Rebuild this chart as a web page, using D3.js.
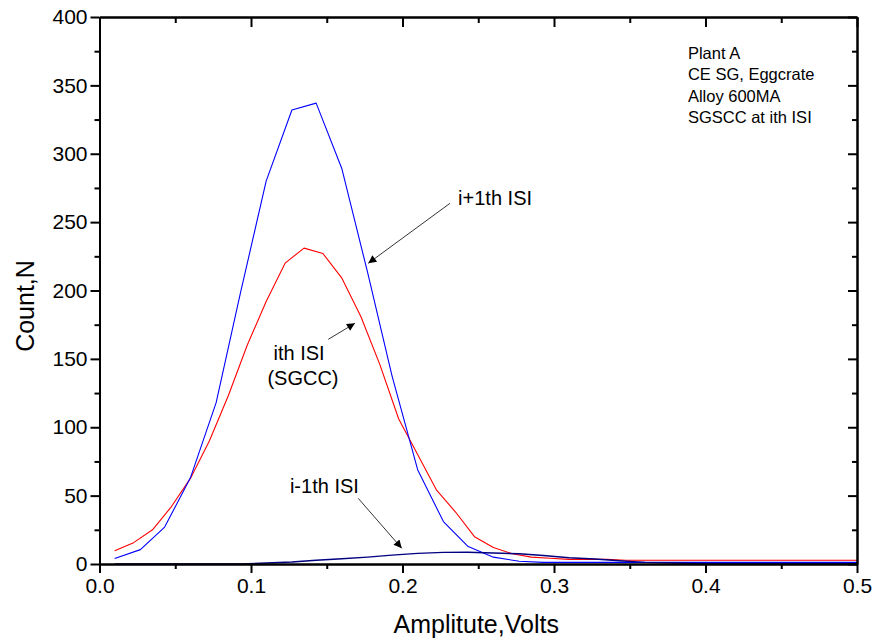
<!DOCTYPE html>
<html>
<head>
<meta charset="utf-8">
<script src="https://cdn.jsdelivr.net/npm/d3@7"></script>
<style>
  body { margin: 0; background: #fff; }
  svg { display: block; font-family: "Liberation Sans", Arial, sans-serif; }
</style>
</head>
<body>
<svg id="chart" width="877" height="643"></svg>
<script>
// i+1th ISI (blue) - bins of ~1/60 V
var xBlue = [0.010, 0.027, 0.043, 0.060, 0.077, 0.093, 0.110, 0.127, 0.143, 0.160,
             0.177, 0.193, 0.210, 0.227, 0.243, 0.260, 0.277, 0.293, 0.310, 0.327,
             0.343, 0.360, 0.377, 0.393, 0.410, 0.427, 0.443, 0.460, 0.477, 0.493, 0.510];
var nextISI = [4, 10.5, 27, 63, 118, 198, 280, 332, 337, 289,
               213, 138, 69, 31, 13, 5, 2, 1.2, 1.2, 1.2,
               1.2, 1.2, 1.2, 1.2, 1.2, 1.2, 1.2, 1.2, 1.2, 1.2, 1.2];
// i-1th ISI (navy), same bins
var prevISI = [0, 0, 0, 0, 0, 0, 0.7, 1.5, 2.7, 3.8,
               5, 6.5, 7.8, 8.5, 8.6, 8, 7.5, 6.2, 4.6, 3.7,
               2.4, 1.2, 0.7, 0.4, 0.3, 0.2, 0.2, 0.2, 0.2, 0.2, 0.2];
// ith ISI (SGCC, red) - bins of 0.0125 V
var xRed = [0.0100, 0.0225, 0.0350, 0.0475, 0.0600, 0.0725, 0.0850, 0.0975, 0.1100, 0.1225,
            0.1350, 0.1475, 0.1600, 0.1725, 0.1850, 0.1975, 0.2100, 0.2225, 0.2350, 0.2475,
            0.2600, 0.2725, 0.2850, 0.2975, 0.3100, 0.3225, 0.3350, 0.3475, 0.3600, 0.3725,
            0.3850, 0.3975, 0.4100, 0.4225, 0.4350, 0.4475, 0.4600, 0.4725, 0.4850, 0.4975, 0.5100];
var thisISI = [9.7, 15.6, 25, 42, 62.6, 90, 123, 160, 192, 220,
               231, 227, 209, 181, 146, 106, 80, 54, 38, 20,
               12, 7.5, 5, 4.2, 3.4, 3.4, 3.4, 2.7, 2.7, 2.7,
               2.7, 2.7, 2.7, 2.7, 2.7, 2.7, 2.7, 2.7, 2.7, 2.7, 2.7];

var xTicks = [0, 0.1, 0.2, 0.3, 0.4, 0.5];
var xMinor = [0.05, 0.15, 0.25, 0.35, 0.45];
var yTicks = [0, 50, 100, 150, 200, 250, 300, 350, 400];
var yMinor = [25, 75, 125, 175, 225, 275, 325, 375];

var infoLines = ["Plant A", "CE SG, Eggcrate", "Alloy 600MA", "SGSCC at ith ISI"];

var svg = d3.select("#chart");
var margin = {top: 17, right: 20, bottom: 79, left: 99.5},
    width = 877 - margin.left - margin.right,
    height = 643 - margin.top - margin.bottom;

var x = d3.scaleLinear().domain([0, 0.5]).range([margin.left, margin.left + width]);
var y = d3.scaleLinear().domain([0, 400]).range([margin.top + height, margin.top]);

svg.append("defs").append("clipPath").attr("id", "clip")
    .append("rect")
    .attr("x", x(0)).attr("y", y(400))
    .attr("width", x(0.5) - x(0)).attr("height", y(0) - y(400));

svg.select("defs").append("marker")
    .attr("id", "arrow")
    .attr("viewBox", "0 0 10 10")
    .attr("refX", 10).attr("refY", 5)
    .attr("markerWidth", 13).attr("markerHeight", 8)
    .attr("markerUnits", "userSpaceOnUse")
    .attr("orient", "auto")
    .append("path")
    .attr("d", "M0,0L10,5L0,10z")
    .attr("fill", "#000");

//Lines
var lines = svg.append("g").attr("clip-path", "url(#clip)");

function drawLine(xs, ys, color, w) {
    var line = d3.line()
        .x(function(d, i) { return x(xs[i]); })
        .y(function(d) { return y(d); });
    lines.append("path")
        .datum(ys)
        .attr("fill", "none")
        .attr("stroke", color)
        .attr("stroke-width", w)
        .attr("stroke-linejoin", "round")
        .attr("d", line);
}

drawLine(xRed, thisISI, "#ff0000", 1.1);
drawLine(xBlue, nextISI, "#0000ff", 1.1);
drawLine(xBlue, prevISI, "#000080", 1.4);

//Axes
function styleAxis(g, fontSize) {
    g.select(".domain").attr("stroke-width", 2);
    g.selectAll(".tick line").attr("stroke-width", 2);
    g.selectAll(".tick text").attr("font-size", fontSize).attr("fill", "#000");
    g.attr("font-family", null);
}

var fmtX = d3.format(".1f");

// bottom
svg.append("g")
    .attr("transform", "translate(0," + y(0) + ")")
    .call(d3.axisBottom(x).tickValues(xTicks).tickFormat(fmtX).tickSize(9).tickPadding(5).tickSizeOuter(0))
    .call(styleAxis, 21);
svg.append("g")
    .attr("transform", "translate(0," + y(0) + ")")
    .call(d3.axisBottom(x).tickValues(xMinor).tickFormat("").tickSize(5).tickSizeOuter(0))
    .call(styleAxis, 21);

// top (inward)
svg.append("g")
    .attr("transform", "translate(0," + y(400) + ")")
    .call(d3.axisBottom(x).tickValues(xTicks).tickFormat("").tickSize(10).tickSizeOuter(0))
    .call(styleAxis, 21);
svg.append("g")
    .attr("transform", "translate(0," + y(400) + ")")
    .call(d3.axisBottom(x).tickValues(xMinor).tickFormat("").tickSize(6).tickSizeOuter(0))
    .call(styleAxis, 21);

// left
svg.append("g")
    .attr("transform", "translate(" + x(0) + ",0)")
    .call(d3.axisLeft(y).tickValues(yTicks).tickSize(9).tickPadding(3).tickSizeOuter(0))
    .call(styleAxis, 21);
svg.append("g")
    .attr("transform", "translate(" + x(0) + ",0)")
    .call(d3.axisLeft(y).tickValues(yMinor).tickFormat("").tickSize(5).tickSizeOuter(0))
    .call(styleAxis, 21);

// right (inward)
svg.append("g")
    .attr("transform", "translate(" + x(0.5) + ",0)")
    .call(d3.axisLeft(y).tickValues(yTicks).tickFormat("").tickSize(9).tickSizeOuter(0))
    .call(styleAxis, 21);
svg.append("g")
    .attr("transform", "translate(" + x(0.5) + ",0)")
    .call(d3.axisLeft(y).tickValues(yMinor).tickFormat("").tickSize(5).tickSizeOuter(0))
    .call(styleAxis, 21);

//Axis titles
svg.append("text")
    .attr("x", (x(0) + x(0.5)) / 2 - 2)
    .attr("y", 633)
    .attr("text-anchor", "middle")
    .attr("font-size", 25)
    .text("Amplitute,Volts");

svg.append("text")
    .attr("transform", "translate(34," + 306 + ") rotate(-90)")
    .attr("text-anchor", "middle")
    .attr("font-size", 25)
    .text("Count,N");

//Info block
svg.append("g").selectAll("text")
    .data(infoLines)
    .enter().append("text")
    .attr("x", x(0.3884))
    .attr("y", function(d, i) { return y(369.3) + i * 21.3; })
    .attr("font-size", 16.5)
    .text(function(d) { return d; });

//Annotations (data coordinates)
var labels = [
    {text: "i+1th ISI", x: 0.2367, y: 262.5, anchor: "start"},
    {text: "ith ISI", x: 0.1317, y: 149.2, anchor: "middle"},
    {text: "(SGCC)", x: 0.1343, y: 130.9, anchor: "middle"},
    {text: "i-1th ISI", x: 0.1257, y: 51.7, anchor: "start"}
];
var arrows = [
    {x1: 0.2314, y1: 263.8, x2: 0.1774, y2: 219.9},
    {x1: 0.1510, y1: 164.3, x2: 0.1686, y2: 176.0},
    {x1: 0.1708, y1: 48.0, x2: 0.1995, y2: 11.5}
];

svg.append("g").selectAll("text")
    .data(labels)
    .enter().append("text")
    .attr("x", function(d) { return x(d.x); })
    .attr("y", function(d) { return y(d.y); })
    .attr("text-anchor", function(d) { return d.anchor; })
    .attr("font-size", 20)
    .text(function(d) { return d.text; });

svg.append("g").selectAll("line")
    .data(arrows)
    .enter().append("line")
    .attr("x1", function(d) { return x(d.x1); })
    .attr("y1", function(d) { return y(d.y1); })
    .attr("x2", function(d) { return x(d.x2); })
    .attr("y2", function(d) { return y(d.y2); })
    .attr("stroke", "#333")
    .attr("stroke-width", 1)
    .attr("marker-end", "url(#arrow)");
</script>
</body>
</html>
